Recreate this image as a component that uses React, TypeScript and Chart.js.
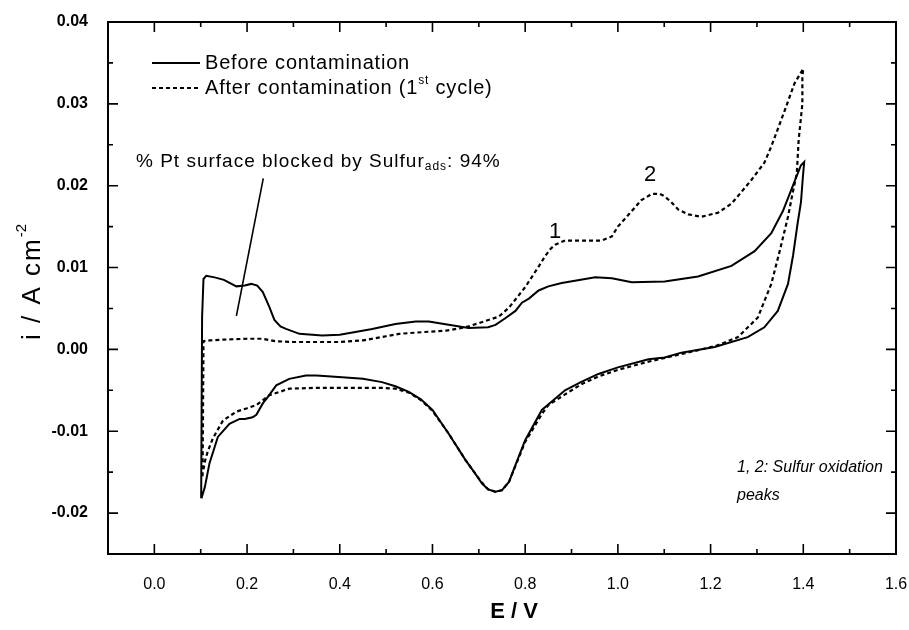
import React, { useEffect, useRef } from "react";
import { Chart, registerables } from "chart.js";

Chart.register(...registerables);

// Solid curve: before contamination (anodic sweep then cathodic sweep)
const beforeE = [
  0.101, 0.103, 0.106, 0.112, 0.13, 0.15, 0.177, 0.195, 0.209, 0.222, 0.234, 0.248, 0.259, 0.272, 0.284,
  0.313, 0.362, 0.4, 0.47, 0.52, 0.564, 0.592, 0.635, 0.678, 0.72, 0.736, 0.757, 0.779, 0.793, 0.808,
  0.829, 0.85, 0.879, 0.92, 0.951, 0.987, 1.03, 1.101, 1.173, 1.245, 1.295, 1.331, 1.356, 1.381, 1.395, 1.402,
  1.399, 1.395, 1.388, 1.378, 1.367, 1.345, 1.316, 1.28, 1.209, 1.137, 1.101, 1.066, 1.0, 0.958, 0.92, 0.886,
  0.836, 0.8, 0.78, 0.765, 0.75, 0.736, 0.72, 0.707, 0.69, 0.671, 0.635, 0.6, 0.575, 0.549, 0.52, 0.491,
  0.45, 0.405, 0.35, 0.327, 0.291, 0.263, 0.245, 0.234, 0.22, 0.212, 0.195, 0.184, 0.162, 0.137, 0.119,
  0.109, 0.1015,
];
const beforeI = [
  -0.0182, 0.004, 0.0086, 0.009, 0.0088, 0.0085, 0.0077, 0.0078, 0.008, 0.0078, 0.007, 0.0052, 0.0036, 0.0028, 0.0025,
  0.0019, 0.0017, 0.0018, 0.0025, 0.0031, 0.0034, 0.0034, 0.003, 0.0026, 0.0027, 0.003, 0.0038, 0.0047, 0.0057, 0.0062,
  0.0072, 0.0077, 0.0081, 0.0085, 0.0088, 0.0087, 0.0082, 0.0083, 0.0089, 0.0102, 0.012, 0.0142, 0.0169, 0.0205, 0.0225, 0.0229,
  0.021, 0.018, 0.0155, 0.0115, 0.008, 0.0047, 0.0027, 0.0015, 0.0003, -0.0004, -0.001, -0.0012, -0.0022, -0.003, -0.004, -0.005,
  -0.0074, -0.0111, -0.014, -0.0162, -0.0172, -0.0174, -0.0171, -0.0164, -0.015, -0.0135, -0.0103, -0.0074, -0.0061, -0.0052, -0.0045, -0.004,
  -0.0036, -0.0034, -0.0032, -0.0032, -0.0036, -0.0044, -0.0058, -0.0066, -0.008, -0.0083, -0.0085, -0.0085, -0.0091, -0.0107, -0.0139,
  -0.0168, -0.0182,
];

// Dotted curve: after contamination, 1st cycle
const afterE = [
  0.104, 0.106, 0.12, 0.15, 0.2, 0.234, 0.26, 0.3, 0.35, 0.4, 0.45, 0.5, 0.528, 0.577, 0.63, 0.671, 0.7,
  0.743, 0.765, 0.779, 0.8, 0.815, 0.83, 0.843, 0.855, 0.865, 0.886, 0.92, 0.965, 0.987, 1.0, 1.03, 1.05,
  1.073, 1.09, 1.101, 1.115, 1.13, 1.152, 1.18, 1.216, 1.245, 1.266, 1.288, 1.316, 1.331, 1.36, 1.381, 1.4,
  1.398, 1.398, 1.39, 1.386, 1.377, 1.367, 1.349, 1.331, 1.302, 1.259, 1.215, 1.173, 1.12, 1.066, 1.0, 0.958,
  0.92, 0.886, 0.85, 0.836, 0.8, 0.78, 0.765, 0.75, 0.736, 0.72, 0.707, 0.69, 0.671, 0.635, 0.6, 0.575, 0.55,
  0.52, 0.49, 0.45, 0.4, 0.35, 0.291, 0.27, 0.248, 0.22, 0.2, 0.177, 0.148, 0.126, 0.115, 0.109, 0.105,
];
const afterI = [
  -0.0155, 0.001, 0.0011, 0.0012, 0.0013, 0.0013, 0.001, 0.0009, 0.0009, 0.0009, 0.0011, 0.0016, 0.0019, 0.0021, 0.0023, 0.0027, 0.0032,
  0.004, 0.0051, 0.0061, 0.0076, 0.0089, 0.0102, 0.0114, 0.0123, 0.0128, 0.0133, 0.0133, 0.0133, 0.0138, 0.015, 0.0169, 0.0182,
  0.019, 0.019, 0.0187, 0.018, 0.0171, 0.0165, 0.0162, 0.0167, 0.0178, 0.0192, 0.0207, 0.0228, 0.0248, 0.0292, 0.0325, 0.0343,
  0.0333, 0.03, 0.0256, 0.0215, 0.0191, 0.0162, 0.012, 0.008, 0.0039, 0.0015, 0.0005, -0.0001, -0.0008, -0.0015, -0.0025, -0.0033,
  -0.0043, -0.0055, -0.0068, -0.0079, -0.0113, -0.0141, -0.0162, -0.0172, -0.0174, -0.0171, -0.0163, -0.015, -0.0135, -0.0103, -0.0075, -0.0062, -0.0053,
  -0.0048, -0.0047, -0.0047, -0.0047, -0.0047, -0.0048, -0.0052, -0.0056, -0.0068, -0.0072, -0.0076, -0.0087, -0.0109, -0.0125, -0.0137, -0.015,
];

// Pointer line of the "% Pt surface blocked" annotation
const pointerE = [0.177, 0.235];
const pointerI = [0.0041, 0.0209];

const xTicks = [0, 0.2, 0.4, 0.6, 0.8, 1.0, 1.2, 1.4, 1.6];
const xTickLabels = ["0.0", "0.2", "0.4", "0.6", "0.8", "1.0", "1.2", "1.4", "1.6"];
const xMinorTicks = [-0.1, 0.1, 0.3, 0.5, 0.7, 0.9, 1.1, 1.3, 1.5];
const yTicks = [-0.02, -0.01, 0, 0.01, 0.02, 0.03, 0.04];
const yTickLabels = ["-0.02", "-0.01", "0.00", "0.01", "0.02", "0.03", "0.04"];
const yMinorTicks = [-0.025, -0.015, -0.005, 0.005, 0.015, 0.025, 0.035];

const legendLabels = ["Before contamination", "After contamination (1", "st", " cycle)"];
const annotationText = ["% Pt surface blocked by Sulfur", "ads", ": 94%"];
const peakLabels = ["1", "2"];
const noteLines = ["1, 2: Sulfur oxidation", "peaks"];

const FONT = "'Liberation Sans', Arial, sans-serif";

function toXY(xs: number[], ys: number[]) {
  return xs.map((x, i) => ({ x, y: ys[i] }));
}

type Seg = { t: string; size: number; dy: number; style?: string };

function drawSegs(ctx: CanvasRenderingContext2D, segs: Seg[], x: number, y: number, spacing: number) {
  let cx = x;
  for (const s of segs) {
    ctx.font = `${s.style || ""} ${s.size}px ${FONT}`;
    (ctx as any).letterSpacing = `${spacing}px`;
    ctx.fillText(s.t, cx, y + s.dy);
    cx += ctx.measureText(s.t).width;
  }
  (ctx as any).letterSpacing = "0px";
}

const decorPlugin = {
  id: "decor",
  afterDraw(chart: any) {
    const { ctx, chartArea, scales } = chart;
    const { left, right, top, bottom } = chartArea;
    const xs = scales.x;
    const ys = scales.y;
    ctx.save();
    ctx.strokeStyle = "#000";
    ctx.fillStyle = "#000";
    // frame
    ctx.lineWidth = 2;
    ctx.strokeRect(left, top, right - left, bottom - top);
    // ticks (inward, on all four sides)
    ctx.lineWidth = 1.6;
    const tick = (len: number, vals: number[], horiz: boolean) => {
      for (const v of vals) {
        ctx.beginPath();
        if (horiz) {
          const px = xs.getPixelForValue(v);
          ctx.moveTo(px, bottom);
          ctx.lineTo(px, bottom - len);
          ctx.moveTo(px, top);
          ctx.lineTo(px, top + len);
        } else {
          const py = ys.getPixelForValue(v);
          ctx.moveTo(left, py);
          ctx.lineTo(left + len, py);
          ctx.moveTo(right, py);
          ctx.lineTo(right - len, py);
        }
        ctx.stroke();
      }
    };
    tick(10, xTicks, true);
    tick(5, xMinorTicks, true);
    tick(10, yTicks, false);
    tick(5, yMinorTicks, false);

    // legend
    ctx.lineWidth = 2;
    ctx.beginPath();
    ctx.moveTo(152, 63);
    ctx.lineTo(200, 63);
    ctx.stroke();
    ctx.setLineDash([4, 3]);
    ctx.beginPath();
    ctx.moveTo(152, 88);
    ctx.lineTo(198, 88);
    ctx.stroke();
    ctx.setLineDash([]);
    ctx.textBaseline = "middle";
    ctx.textAlign = "left";
    drawSegs(ctx, [{ t: legendLabels[0], size: 20, dy: 0 }], 205, 63, 0.8);
    drawSegs(
      ctx,
      [
        { t: legendLabels[1], size: 20, dy: 0 },
        { t: legendLabels[2], size: 12, dy: -7 },
        { t: legendLabels[3], size: 20, dy: 0 },
      ],
      205,
      88,
      0.8
    );

    // annotation
    drawSegs(
      ctx,
      [
        { t: annotationText[0], size: 19, dy: 0 },
        { t: annotationText[1], size: 12, dy: 5 },
        { t: annotationText[2], size: 19, dy: 0 },
      ],
      136,
      162,
      1
    );

    // peak labels
    ctx.textAlign = "center";
    ctx.font = `22px ${FONT}`;
    ctx.fillText(peakLabels[0], 555, 232);
    ctx.fillText(peakLabels[1], 650, 175);

    // note
    ctx.textAlign = "left";
    ctx.font = `italic 16px ${FONT}`;
    ctx.fillText(noteLines[0], 737, 468);
    ctx.fillText(noteLines[1], 737, 496);

    // axis titles
    ctx.textAlign = "center";
    ctx.font = `bold 22px ${FONT}`;
    ctx.fillText("E / V", 514, 612);

    ctx.translate(33, 282);
    ctx.rotate(-Math.PI / 2);
    ctx.textAlign = "left";
    const mainFont = `26px ${FONT}`;
    const supFont = `15px ${FONT}`;
    ctx.font = mainFont;
    (ctx as any).letterSpacing = "2px";
    const w1 = ctx.measureText("i / A cm").width;
    ctx.font = supFont;
    (ctx as any).letterSpacing = "0px";
    const w2 = ctx.measureText("-2").width;
    const start = -(w1 + w2) / 2;
    ctx.font = mainFont;
    (ctx as any).letterSpacing = "2px";
    ctx.fillText("i / A cm", start, 0);
    (ctx as any).letterSpacing = "0px";
    ctx.font = supFont;
    ctx.fillText("-2", start + w1, -11);
    ctx.restore();
  },
};

export default function App() {
  const ref = useRef<HTMLCanvasElement | null>(null);

  useEffect(() => {
    if (!ref.current) return;
    const chart = new Chart(ref.current, {
      type: "scatter",
      data: {
        datasets: [
          {
            label: "Before contamination",
            data: toXY(beforeE, beforeI),
            showLine: true,
            borderColor: "#000",
            borderWidth: 2,
            pointRadius: 0,
            tension: 0,
          },
          {
            label: "After contamination (1st cycle)",
            data: toXY(afterE, afterI),
            showLine: true,
            borderColor: "#000",
            borderWidth: 2.2,
            borderDash: [4, 3],
            pointRadius: 0,
            tension: 0,
          },
          {
            label: "pointer",
            data: toXY(pointerE, pointerI),
            showLine: true,
            borderColor: "#000",
            borderWidth: 1.6,
            pointRadius: 0,
          },
        ],
      },
      options: {
        responsive: false,
        animation: false,
        events: [],
        layout: { padding: { left: 0, right: 13, top: 22, bottom: 0 } },
        plugins: {
          legend: { display: false },
          tooltip: { enabled: false },
          title: { display: false },
        },
        scales: {
          x: {
            type: "linear",
            min: -0.1,
            max: 1.6,
            grid: { display: false },
            border: { display: false },
            afterBuildTicks: (scale: any) => {
              scale.ticks = xTicks.map((v) => ({ value: v }));
            },
            afterFit: (scale: any) => {
              scale.height = 76;
              scale.paddingLeft = 0;
              scale.paddingRight = 0;
            },
            ticks: {
              padding: 13,
              color: "#000",
              font: { family: FONT, size: 16 },
              maxRotation: 0,
              autoSkip: false,
              callback: (_v: any, i: number) => xTickLabels[i],
            },
          },
          y: {
            type: "linear",
            min: -0.025,
            max: 0.04,
            grid: { display: false },
            border: { display: false },
            afterBuildTicks: (scale: any) => {
              scale.ticks = yTicks.map((v) => ({ value: v }));
            },
            afterFit: (scale: any) => {
              scale.width = 108;
              scale.paddingTop = 0;
              scale.paddingBottom = 0;
            },
            ticks: {
              padding: 12,
              color: "#000",
              font: { family: FONT, size: 16, weight: "bold" },
              autoSkip: false,
              callback: (_v: any, i: number) => yTickLabels[i],
            },
          },
        },
      },
      plugins: [decorPlugin],
    } as any);
    return () => chart.destroy();
  }, []);

  return (
    <div style={{ position: "absolute", left: 0, top: 0, width: 909, height: 630, background: "#fff" }}>
      <canvas ref={ref} width={909} height={630} style={{ display: "block" }} />
    </div>
  );
}
